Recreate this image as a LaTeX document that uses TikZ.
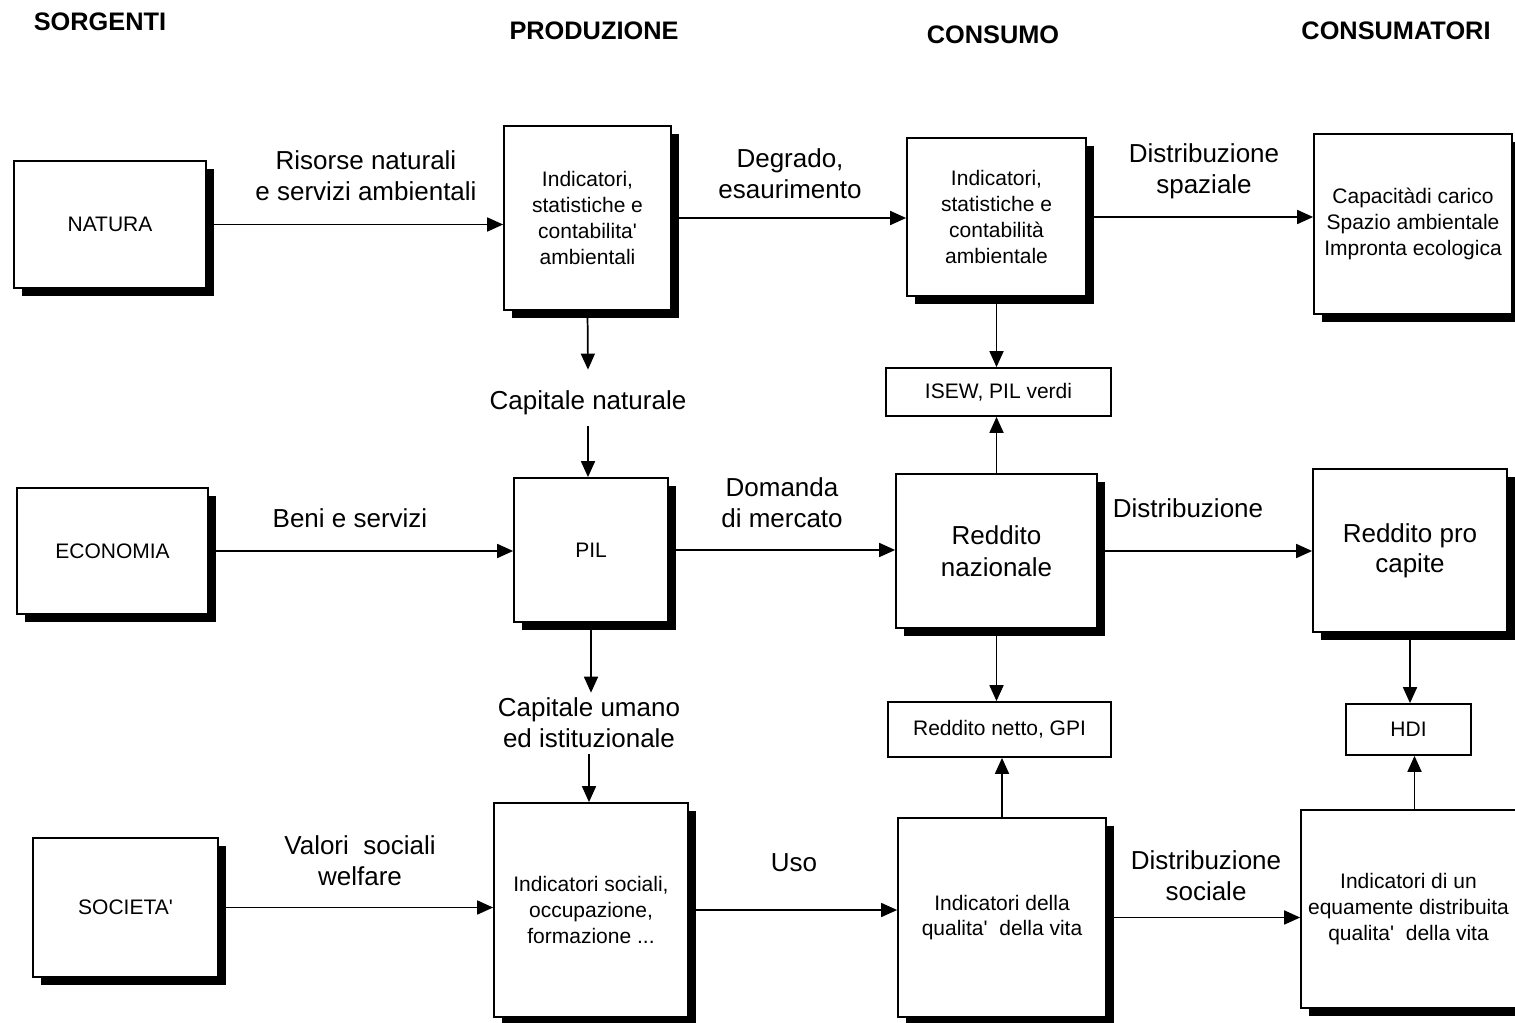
\documentclass[tikz,border=0pt]{standalone}
\usepackage{fontspec}
\setmainfont{Liberation Sans}
\usepackage{tikz}
\usetikzlibrary{arrows.meta}
\usetikzlibrary{calc}
\usetikzlibrary{shadows}

\newcommand{\apo}{\textquotesingle}

\tikzset{
  box/.style={draw, fill=white, line width=1.3pt, inner sep=0pt, align=center,
    font=\fontsize{15.75}{19.3}\selectfont,
    drop shadow={shadow xshift=6pt, shadow yshift=-6pt, fill=black, opacity=1}},
  plainbox/.style={draw, fill=white, line width=1.3pt, inner sep=0pt, align=center,
    font=\fontsize{15.75}{19.3}\selectfont},
  lab/.style={inner sep=0pt, align=center, font=\fontsize{19.5}{23.25}\selectfont},
  head/.style={inner sep=0pt, font=\bfseries\fontsize{19}{22}\selectfont},
  arr/.style={line width=1.3pt, -{Triangle[length=12pt,width=10.5pt]}},
}

\begin{document}
\begin{tikzpicture}[x=0.75pt,y=0.75pt,yscale=-1,xscale=1]
\useasboundingbox (0,0) rectangle (1515,1023);

%Text: column heads
\node[head] (hsorg) at (100,22) {SORGENTI};
\node[head] (hprod) at (594,31) {PRODUZIONE};
\node[head] (hcons) at (993,35) {CONSUMO};
\node[head] (hcnsm) at (1396,31) {CONSUMATORI};

%Shape: Rectangle, first row
\node[box, minimum width=144pt, minimum height=95.25pt] (natura) at (110,224.5) {NATURA};
\node[box, minimum width=125.25pt, minimum height=138pt] (indamb) at (587.5,218) {Indicatori,\\statistiche e\\contabilita\apo\\ambientali};
\node[box, minimum width=134.25pt, minimum height=118.5pt] (indstat) at (996.5,217) {Indicatori,\\statistiche e\\contabilità\\ambientale};
\node[box, minimum width=148.5pt, minimum height=135pt] (carico) at (1413,224) {Capacitàdi carico\\Spazio ambientale\\Impronta ecologica};
\node[plainbox, minimum width=168.75pt, minimum height=36pt] (isew) at (998.5,392) {ISEW, PIL verdi};

%Shape: Rectangle, second row
\node[box, minimum width=143.25pt, minimum height=94.5pt] (economia) at (112.5,551) {ECONOMIA};
\node[box, minimum width=115.5pt, minimum height=108pt] (pil) at (591,550) {PIL};
\node[box, minimum width=150.75pt, minimum height=115.5pt, font=\fontsize{19.5}{24}\selectfont] (rednaz) at (996.5,551) {Reddito\\nazionale};
\node[box, minimum width=145.5pt, minimum height=122.25pt, font=\fontsize{19.5}{22.5}\selectfont] (procap) at (1410,550.5) {Reddito pro\\capite};
\node[plainbox, minimum width=167.25pt, minimum height=41.25pt] (netto) at (999.5,729.5) {Reddito netto, GPI};
\node[plainbox, minimum width=93.75pt, minimum height=38.25pt] (hdi) at (1408.5,729.5) {HDI};

%Shape: Rectangle, third row
\node[box, minimum width=138.75pt, minimum height=104.25pt] (societa) at (125.5,907.5) {SOCIETA\apo};
\node[box, minimum width=145.5pt, minimum height=160.5pt] (indsoc) at (591,910) {Indicatori sociali,\\occupazione,\\formazione ...};
\node[box, minimum width=156pt, minimum height=149.25pt] (qualita) at (1002,917.5) {Indicatori della\\qualita\apo~ della vita};
\node[box, minimum width=161.25pt, minimum height=148.5pt] (equa) at (1408.5,909) {Indicatori di un\\equamente distribuita\\qualita\apo~ della vita};

%Text: flow labels
\node[lab] (risorse) at (366,176) {Risorse naturali\\e servizi ambientali};
\node[lab] (degrado) at (790,174) {Degrado,\\esaurimento};
\node[lab] (spaziale) at (1204,171) {Distribuzione\\spaziale};
\node[lab] (beni) at (350,518) {Beni e servizi};
\node[lab] (domanda) at (782,503) {Domanda\\di mercato};
\node[lab] (distr) at (1188,508) {Distribuzione};
\node[lab] (valori) at (360,861) {Valori~ sociali\\welfare};
\node[lab] (uso) at (794,863) {Uso};
\node[lab] (sociale) at (1206,876) {Distribuzione\\sociale};
\node[lab] (capnat) at (588,403) {Capitale naturale};
\node[lab] (capum) at (589,723) {Capitale umano\\ed istituzionale};

%Straight Lines: horizontal flows
\draw[arr] (natura.east) -- (natura.east -| indamb.west);
\draw[arr] (indamb.east) -- (indamb.east -| indstat.west);
\draw[arr] (indstat.east) -- (indstat.east -| carico.west);
\draw[arr] (economia.east) -- (economia.east -| pil.west);
\draw[arr] (pil.east) -- (pil.east -| rednaz.west);
\draw[arr] (rednaz.east) -- (rednaz.east -| procap.west);
\draw[arr] (societa.east) -- (societa.east -| indsoc.west);
\draw[arr] (indsoc.east) -- (indsoc.east -| qualita.west);
\draw[arr] (qualita.east) -- (qualita.east -| equa.west);

%Straight Lines: vertical flows
\draw[arr] (indamb.south) -- ($(capnat.north)+(0,-21)$);
\draw[arr] ($(capnat.south)+(0,11)$) -- (capnat.south |- pil.north);
\draw[arr] (pil.south) -- ($(pil.south |- capum.north)+(0,-5)$);
\draw[arr] ($(capum.south)+(0,6)$) -- (capum.south |- indsoc.north);
\draw[arr] (indstat.south) -- (indstat.south |- isew.north);
\draw[arr] (rednaz.north) -- (rednaz.north |- isew.south);
\draw[arr] (rednaz.south) -- (rednaz.south |- netto.north);
\draw[arr] (qualita.north) -- (qualita.north |- netto.south);
\draw[arr] (procap.south) -- (procap.south |- hdi.north);
\draw[arr] ($(equa.north)+(6,0)$) -- ($(equa.north |- hdi.south)+(6,0)$);

\end{tikzpicture}
\end{document}
